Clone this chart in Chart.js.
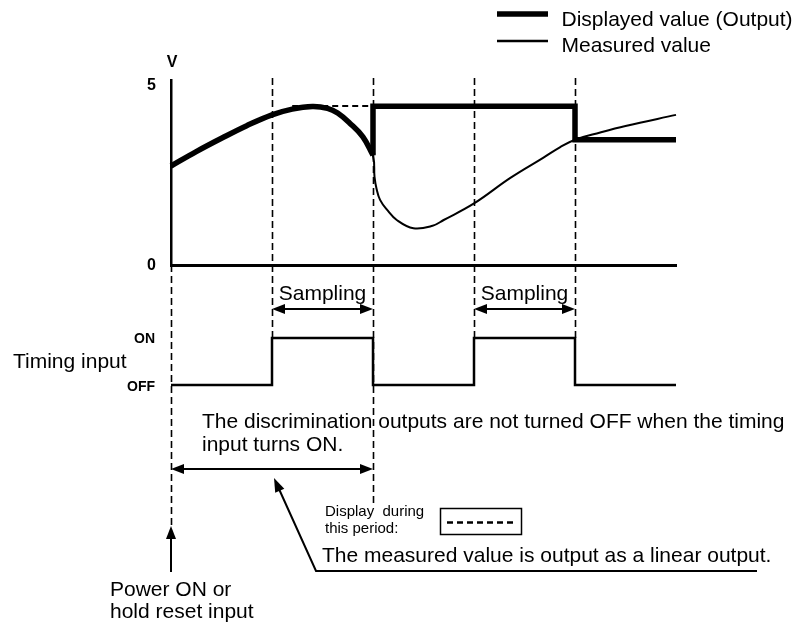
<!DOCTYPE html>
<html><head><meta charset="utf-8">
<script src="https://cdn.jsdelivr.net/npm/chart.js@4/dist/chart.umd.min.js"></script>
<style>html,body{margin:0;padding:0;background:#fff;}#wrap{width:796px;height:624px;position:relative;}</style>
</head><body><div id="wrap"><canvas id="c" width="796" height="624"></canvas></div>
<script>
// ---------- data ----------
const eventTimes = [0, 1, 2, 3, 4];
const measuredT = [0, 0.25, 0.5, 0.75, 1.0, 1.2, 1.4, 1.55, 1.65, 1.77, 1.9, 2.0, 2.015, 2.035, 2.07, 2.14, 2.235, 2.4, 2.59, 2.7, 3.0, 3.36, 3.68, 3.85, 4.0, 4.25, 4.5, 5.0];
const measuredV = [2.75, 3.15, 3.52, 3.87, 4.17, 4.33, 4.40, 4.35, 4.22, 3.94, 3.56, 3.02, 2.45, 2.12, 1.81, 1.53, 1.25, 1.02, 1.09, 1.25, 1.71, 2.42, 2.97, 3.27, 3.48, 3.68, 3.86, 4.17];
const displayedT = [0, 0.25, 0.5, 0.75, 1.0, 1.2, 1.4, 1.55, 1.65, 1.77, 1.9, 2.0, 2.0, 4.0, 4.0, 5.0];
const displayedV = [2.75, 3.15, 3.52, 3.87, 4.17, 4.33, 4.40, 4.35, 4.22, 3.94, 3.56, 3.05, 4.41, 4.41, 3.48, 3.48];
const heldPeakT = [1.2, 2.0];
const heldPeakV = [4.42, 4.42];
const timingT = [0, 1, 1, 2, 2, 3, 3, 4, 4, 5];
const timingState = [0, 0, 1, 1, 0, 0, 1, 1, 0, 0];
const samplingWindows = [[1, 2], [3, 4]];
const holdPeriod = [0, 2];
const yTickValues = [0, 5];
const yTickLabels = ['0', '5'];
const timingLabels = ['OFF', 'ON'];
const seriesNames = ['Displayed value (Output)', 'Measured value'];
const yUnit = 'V';

// ---------- helpers ----------
const pts = (xs, ys) => xs.map((x, i) => ({x: x, y: ys[i]}));
const jump = displayedT.findIndex((t, i) => i > 0 && t === displayedT[i - 1]);
const FONT = '"Liberation Sans", Arial, Helvetica, sans-serif';

// pixel calibration of the layout
const PX = {left: 171, right: 676, top: 80, zero: 265, five: 85, off: 385, on: 338};
const yMax = 5 * (PX.zero - PX.top) / (PX.zero - PX.five);
const tPx = (PX.off - PX.on);
const y2Min = (PX.off - PX.zero) / tPx;
const y2Max = y2Min + (PX.zero - PX.top) / tPx;

function arrowHead(ctx, tipX, tipY, fromX, fromY, len, half) {
  const a = Math.atan2(tipY - fromY, tipX - fromX);
  ctx.beginPath();
  ctx.moveTo(tipX, tipY);
  ctx.lineTo(tipX - len * Math.cos(a) + half * Math.sin(a), tipY - len * Math.sin(a) - half * Math.cos(a));
  ctx.lineTo(tipX - len * Math.cos(a) - half * Math.sin(a), tipY - len * Math.sin(a) + half * Math.cos(a));
  ctx.closePath();
  ctx.fill();
}
function dblArrow(ctx, x1, x2, y) {
  ctx.lineWidth = 2;
  ctx.beginPath(); ctx.moveTo(x1 + 6, y); ctx.lineTo(x2 - 6, y); ctx.stroke();
  arrowHead(ctx, x1, y, x2, y, 13, 5);
  arrowHead(ctx, x2, y, x1, y, 13, 5);
}
function txt(ctx, s, x, y, size, opts) {
  opts = opts || {};
  ctx.font = (opts.bold ? 'bold ' : '') + size + 'px ' + FONT;
  ctx.textAlign = opts.align || 'left';
  ctx.textBaseline = opts.base || 'alphabetic';
  ctx.fillText(s, x, y);
}

const guides = {
  id: 'guides',
  beforeDatasetsDraw(chart) {
    const {ctx, scales: {x, y, y2}, chartArea} = chart;
    ctx.save();
    ctx.strokeStyle = '#000';
    ctx.lineWidth = 1.6;
    ctx.setLineDash([7, 4]);
    eventTimes.forEach(t => {
      const px = Math.round(x.getPixelForValue(t)) + 0.5;
      let top = chartArea.top - 2, bot = y2.getPixelForValue(1);
      if (t === holdPeriod[0]) { top = y.getPixelForValue(0); bot = 527; }
      if (t === holdPeriod[1]) { bot = 503; }
      ctx.beginPath(); ctx.moveTo(px, top); ctx.lineTo(px, bot); ctx.stroke();
    });
    ctx.restore();
  },
  afterDraw(chart) {
    const {ctx, scales: {x, y, y2}} = chart;
    ctx.save();
    ctx.fillStyle = '#000';
    ctx.strokeStyle = '#000';
    // legend
    ctx.lineCap = 'butt';
    ctx.lineWidth = 5.5;
    ctx.beginPath(); ctx.moveTo(497, 14); ctx.lineTo(548, 14); ctx.stroke();
    ctx.lineWidth = 2.5;
    ctx.beginPath(); ctx.moveTo(497, 41); ctx.lineTo(548, 41); ctx.stroke();
    txt(ctx, seriesNames[0], 561.5, 25.5, 21);
    txt(ctx, seriesNames[1], 561.5, 52, 21);
    // y axis unit and tick labels
    txt(ctx, yUnit, x.getPixelForValue(0) + 1, 63, 16, {bold: true, align: 'center', base: 'middle'});
    yTickValues.forEach((v, i) => {
      txt(ctx, yTickLabels[i], x.getPixelForValue(0) - 15, y.getPixelForValue(v) + 1, 16, {bold: true, align: 'right', base: 'middle'});
    });
    // sampling windows
    samplingWindows.forEach(w => {
      const a = x.getPixelForValue(w[0]), b = x.getPixelForValue(w[1]);
      dblArrow(ctx, a, b, 309);
      txt(ctx, 'Sampling', (a + b) / 2, 300, 21, {align: 'center'});
    });
    // timing labels
    txt(ctx, 'Timing input', 13, 368, 21);
    txt(ctx, timingLabels[1], 155, y2.getPixelForValue(1) + 1, 14, {bold: true, align: 'right', base: 'middle'});
    txt(ctx, timingLabels[0], 155, y2.getPixelForValue(0) + 2, 14, {bold: true, align: 'right', base: 'middle'});
    // notes
    txt(ctx, 'The discrimination outputs are not turned OFF when the timing', 202, 428, 21);
    txt(ctx, 'input turns ON.', 202, 451, 21);
    dblArrow(ctx, x.getPixelForValue(holdPeriod[0]), x.getPixelForValue(holdPeriod[1]), 469);
    // pointer
    ctx.lineWidth = 2;
    ctx.beginPath(); ctx.moveTo(279, 489); ctx.lineTo(316, 571); ctx.lineTo(757, 571); ctx.stroke();
    arrowHead(ctx, 274, 478, 316, 571, 14, 5);
    // display-during key
    txt(ctx, 'Display  during', 325, 516, 15);
    txt(ctx, 'this period:', 325, 533, 15);
    ctx.lineWidth = 1.5;
    ctx.strokeRect(440.5, 508.5, 81, 26);
    ctx.lineWidth = 2.5;
    ctx.setLineDash([6, 4]);
    ctx.beginPath(); ctx.moveTo(447, 522.5); ctx.lineTo(514, 522.5); ctx.stroke();
    ctx.setLineDash([]);
    txt(ctx, 'The measured value is output as a linear output.', 322, 562, 21);
    // power on arrow
    const p0 = x.getPixelForValue(holdPeriod[0]);
    ctx.lineWidth = 2;
    ctx.beginPath(); ctx.moveTo(p0, 536); ctx.lineTo(p0, 572); ctx.stroke();
    arrowHead(ctx, p0, 526, p0, 572, 13, 5);
    txt(ctx, 'Power ON or', 110, 596, 21);
    txt(ctx, 'hold reset input', 110, 618, 21);
    ctx.restore();
  }
};

const base = {pointRadius: 0, borderColor: '#000', fill: false, clip: false, borderCapStyle: 'butt', borderJoinStyle: 'miter'};

new Chart(document.getElementById('c'), {
  type: 'line',
  data: {
    datasets: [
      Object.assign({}, base, {label: seriesNames[1], data: pts(measuredT, measuredV), borderWidth: 2, tension: 0.4, borderJoinStyle: 'round'}),
      Object.assign({}, base, {label: 'peak hold', data: pts(heldPeakT, heldPeakV), borderWidth: 2, borderDash: [6, 4], tension: 0}),
      Object.assign({}, base, {label: seriesNames[0], data: pts(displayedT.slice(0, jump), displayedV.slice(0, jump)), borderWidth: 5.5, tension: 0.4, borderJoinStyle: 'round'}),
      Object.assign({}, base, {label: seriesNames[0] + ' hold', data: pts(displayedT.slice(jump - 1), displayedV.slice(jump - 1)), borderWidth: 5.5, tension: 0}),
      Object.assign({}, base, {label: 'Timing input', data: pts(timingT, timingState), yAxisID: 'y2', borderWidth: 2.5, tension: 0})
    ]
  },
  options: {
    responsive: false,
    animation: false,
    events: [],
    layout: {padding: {left: PX.left, right: 796 - PX.right, top: PX.top, bottom: 624 - PX.zero}},
    plugins: {legend: {display: false}, tooltip: {enabled: false}},
    scales: {
      x: {type: 'linear', min: 0, max: 5, grid: {display: false, drawTicks: false},
          ticks: {display: false}, border: {display: true, width: 3, color: '#000'}},
      y: {type: 'linear', min: 0, max: yMax, position: 'left',
          grid: {display: false, drawTicks: false}, ticks: {display: false},
          border: {display: true, width: 2.5, color: '#000'}},
      y2: {type: 'linear', display: false, min: y2Min, max: y2Max}
    }
  },
  plugins: [guides]
});
</script>
</body></html>
